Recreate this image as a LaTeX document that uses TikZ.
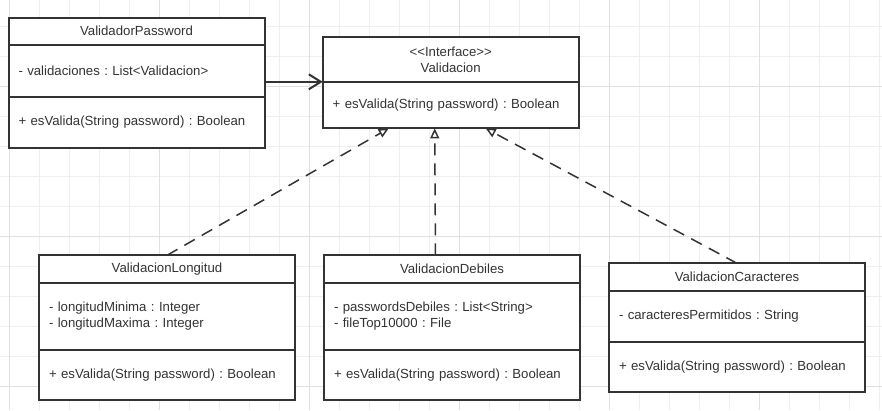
\documentclass[tikz,border=0pt]{standalone}
\usepackage{fontspec}
\setmainfont{Liberation Sans}
\usetikzlibrary{positioning,arrows.meta}

\definecolor{umlline}{HTML}{333333}
\definecolor{umltext}{HTML}{333333}
\definecolor{minorgrid}{HTML}{EFEFEF}
\definecolor{majorgrid}{HTML}{E0E0E0}

\newcommand{\umlfont}{\fontsize{13.2}{16}\selectfont\frenchspacing}

\tikzstyle{umlpart} = [draw=umlline, line width=2pt, fill=white, text=umltext, outer sep=0pt,
	minimum width=256pt, text width=236pt, inner xsep=10pt, inner ysep=0pt, font=\umlfont]
\tikzstyle{umlhead} = [umlpart, align=center]
\tikzstyle{umlbody} = [umlpart, align=left]
\tikzstyle{assoc} = [draw=umlline, line width=2pt, -{Straight Barb[length=12pt,width=15pt]}]
\tikzstyle{realize} = [draw=umlline, line width=1.5pt, dash pattern=on 12pt off 8pt,
	-{Triangle[open,length=10pt,width=9pt]}]

\begin{document}
\begin{tikzpicture}[x=1pt,y=-1pt]
\useasboundingbox (0,0) rectangle (882,410);
\foreach \gx in {9.3,39.3,...,880} \draw[minorgrid,line width=1pt] (\gx,0) -- (\gx,410);
\foreach \gy in {26,56,...,400} \draw[minorgrid,line width=1pt] (0,\gy) -- (882,\gy);
\foreach \gx in {9.3,159.3,...,880} \draw[majorgrid,line width=1pt] (\gx,0) -- (\gx,410);
\foreach \gy in {86,236,386} \draw[majorgrid,line width=1pt] (0,\gy) -- (882,\gy);

\node [umlhead, minimum height=27.5pt, anchor=north west] (pass) at (8.5,17.5) {ValidadorPassword};
\node [umlbody, minimum height=51.5pt, below=0pt of pass] (passattr) {- validaciones : List<Validacion>};
\node [umlbody, minimum height=51pt, below=0pt of passattr] (passmeth) {+ esValida(String password) : Boolean};

\node [umlhead, minimum height=44.5pt, anchor=north west] (iface) at (322.7,37.3)
	{<{}<Interface>{}>\\Validacion};
\node [umlbody, minimum height=46.6pt, below=0pt of iface] (ifacemeth) {+ esValida(String password) : Boolean};

\node [umlhead, minimum height=27.7pt, anchor=north west] (lon) at (39,255.3) {ValidacionLongitud};
\node [umlbody, minimum height=67pt, below=0pt of lon] (lonattr)
	{- longitudMinima : Integer\\- longitudMaxima : Integer};
\node [umlbody, minimum height=50.4pt, below=0pt of lonattr] (lonmeth) {+ esValida(String password) : Boolean};

\node [umlhead, minimum height=27.7pt, anchor=north west] (deb) at (324,255.3) {ValidacionDebiles};
\node [umlbody, minimum height=67pt, below=0pt of deb] (debattr)
	{- passwordsDebiles : List<String>\\- fileTop10000 : File};
\node [umlbody, minimum height=50.4pt, below=0pt of debattr] (debmeth) {+ esValida(String password) : Boolean};

\node [umlhead, minimum height=27.7pt, anchor=north west] (car) at (609,263.3) {ValidacionCaracteres};
\node [umlbody, minimum height=50.7pt, below=0pt of car] (carattr) {- caracteresPermitidos : String};
\node [umlbody, minimum height=50.7pt, below=0pt of carattr] (carmeth) {+ esValida(String password) : Boolean};

\draw [assoc] (passattr.east |- iface.south) -- (iface.south west);
\draw [realize] (lon.north) -- ([xshift=-62pt]ifacemeth.south);
\draw [realize] ([xshift=-16.5pt]deb.north) -- ([xshift=-16pt]ifacemeth.south);
\draw [realize] (car.north) -- ([xshift=35pt]ifacemeth.south);
\end{tikzpicture}
\end{document}
